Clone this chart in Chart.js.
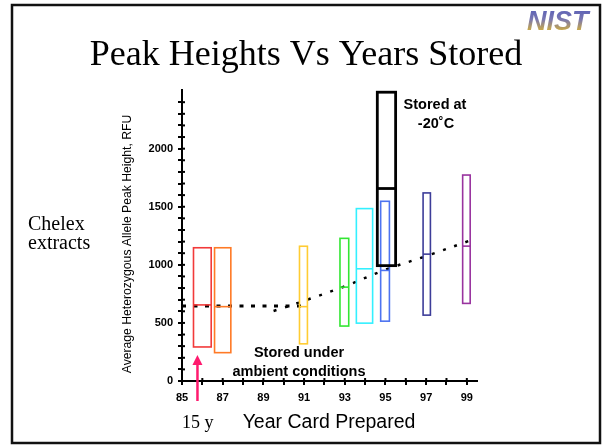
<!DOCTYPE html>
<html>
<head>
<meta charset="utf-8">
<script src="https://cdn.jsdelivr.net/npm/chart.js@4/dist/chart.umd.min.js"></script>
<style>
  html, body { margin: 0; padding: 0; background: #fff; }
  #wrap { width: 605px; height: 446px; position: relative; }
</style>
</head>
<body>
<div id="wrap"><canvas id="c" width="605" height="446"></canvas></div>
<script>
// Year the card was prepared (box centres)
const boxYears   = [86, 87, 90.97, 92.98, 93.97, 94.98, 95.05, 97.03, 98.98];
// Range of average heterozygous allele peak heights (RFU)
const boxLows    = [293, 244, 320, 473, 498, 515, 993, 567, 668];
const boxHighs   = [1147, 1147, 1160, 1228, 1484, 1547, 2486, 1619, 1773];
const boxMedians = [655, 640, 640, 808, 966, 952, 1657, 1092, 1161];

// Flat level for cards stored under ambient conditions
const ambientYears  = [85, 91.2];
const ambientLevel  = [645, 645];

// Trend of peak height with year prepared
const trendYears  = [89.5, 90.0, 91.0, 93.0, 95.0, 97.0, 99.25];
const trendValues = [603, 630, 690, 815, 958, 1075, 1215];

// Axis ticks: every year / every 100 RFU, labelled ones listed here
const xTickValues = [85, 86, 87, 88, 89, 90, 91, 92, 93, 94, 95, 96, 97, 98, 99];
const xTickLabels = [85, 87, 89, 91, 93, 95, 97, 99];
const yTickValues = [0, 100, 200, 300, 400, 500, 600, 700, 800, 900, 1000, 1100, 1200,
                     1300, 1400, 1500, 1600, 1700, 1800, 1900, 2000, 2100, 2200, 2300, 2400];
const yTickLabels = [0, 500, 1000, 1500, 2000];

// Box appearance: width (in years), colour, line width
const boxStyles = [
  { w: 0.87, color: '#f23a3a', lw: 1.6 },
  { w: 0.80, color: '#ff7a26', lw: 1.6 },
  { w: 0.39, color: '#ffcc33', lw: 1.6 },
  { w: 0.43, color: '#33e633', lw: 1.6 },
  { w: 0.80, color: '#33f0ff', lw: 1.6 },
  { w: 0.43, color: '#4d73f0', lw: 1.6 },
  { w: 0.90, color: '#000000', lw: 2.8 },
  { w: 0.36, color: '#3d3d99', lw: 1.6 },
  { w: 0.37, color: '#99339f', lw: 1.6 }
];

const SANS = '"Liberation Sans", Arial, sans-serif';
const SERIF = '"Liberation Serif", "Times New Roman", serif';

const boxPlugin = {
  id: 'boxes',
  afterDatasetsDraw(chart) {
    const { ctx, scales: { x, y } } = chart;
    ctx.save();
    boxYears.forEach((yr, i) => {
      const s = boxStyles[i];
      const l = x.getPixelForValue(yr - s.w / 2);
      const r = x.getPixelForValue(yr + s.w / 2);
      const t = y.getPixelForValue(boxHighs[i]);
      const b = y.getPixelForValue(boxLows[i]);
      const m = y.getPixelForValue(boxMedians[i]);
      ctx.strokeStyle = s.color;
      ctx.lineWidth = s.lw;
      ctx.strokeRect(l, t, r - l, b - t);
      ctx.beginPath();
      ctx.moveTo(l, m);
      ctx.lineTo(r, m);
      ctx.stroke();
    });
    ctx.restore();
  }
};

const decorPlugin = {
  id: 'decor',
  afterDraw(chart) {
    const { ctx, scales: { x, y } } = chart;
    ctx.save();

    // inner halves of the tick marks
    ctx.strokeStyle = '#000';
    ctx.lineWidth = 2;
    x.ticks.forEach(t => {
      const px = x.getPixelForValue(t.value);
      ctx.beginPath(); ctx.moveTo(px, y.bottom); ctx.lineTo(px, y.bottom - 3); ctx.stroke();
    });
    y.ticks.forEach(t => {
      const py = y.getPixelForValue(t.value);
      ctx.beginPath(); ctx.moveTo(x.left, py); ctx.lineTo(x.left + 3, py); ctx.stroke();
    });

    // slide frame
    ctx.lineWidth = 2.5;
    ctx.strokeStyle = '#111';
    ctx.strokeRect(12, 5, 588, 438);

    // title
    ctx.fillStyle = '#000';
    ctx.textAlign = 'center';
    ctx.textBaseline = 'alphabetic';
    ctx.font = '36px ' + SERIF;
    ctx.fillText('Peak Heights Vs Years Stored', 306, 65);

    // side note
    ctx.textAlign = 'left';
    ctx.font = '20px ' + SERIF;
    ctx.fillText('Chelex', 28, 230);
    ctx.fillText('extracts', 28, 249);

    // bottom captions
    ctx.font = '18px ' + SERIF;
    ctx.fillText('15 y', 182, 428);
    ctx.textAlign = 'center';
    ctx.font = '19.5px ' + SANS;
    ctx.fillText('Year Card Prepared', 329, 428);

    // y axis title
    ctx.save();
    ctx.translate(128, 244);
    ctx.rotate(-Math.PI / 2);
    ctx.textBaseline = 'middle';
    ctx.font = '12.2px ' + SANS;
    ctx.fillText('Average Heterozygous Allele Peak Height, RFU', 0, 0);
    ctx.restore();

    // annotations
    ctx.font = 'bold 14.5px ' + SANS;
    ctx.fillText('Stored at', 435, 109);
    ctx.fillText('-20\u02DAC', 436, 128);
    ctx.fillText('Stored under', 299, 357);
    ctx.fillText('ambient conditions', 299, 376);

    // pink arrow pointing at the oldest card
    const ax = x.getPixelForValue(85.76);
    const tipY = y.getPixelForValue(224);
    ctx.strokeStyle = '#ff1a6e';
    ctx.fillStyle = '#ff1a6e';
    ctx.lineWidth = 2.5;
    ctx.beginPath(); ctx.moveTo(ax, 401); ctx.lineTo(ax, tipY + 8); ctx.stroke();
    ctx.beginPath();
    ctx.moveTo(ax, tipY); ctx.lineTo(ax - 5, tipY + 10); ctx.lineTo(ax + 5, tipY + 10);
    ctx.closePath(); ctx.fill();

    // NIST logo
    const g = ctx.createLinearGradient(0, 9, 0, 30);
    g.addColorStop(0, '#5a5fb8');
    g.addColorStop(0.5, '#7a78b0');
    g.addColorStop(1, '#c8a848');
    ctx.fillStyle = g;
    ctx.textAlign = 'left';
    ctx.font = 'italic bold 27px ' + SANS;
    ctx.fillText('NIST', 527, 30);

    ctx.restore();
  }
};

new Chart(document.getElementById('c'), {
  type: 'line',
  data: {
    datasets: [
      {
        data: ambientYears.map((v, i) => ({ x: v, y: ambientLevel[i] })),
        borderColor: '#000',
        borderWidth: 3,
        borderDash: [4, 7.5],
        pointRadius: 0,
        fill: false
      },
      {
        data: trendYears.map((v, i) => ({ x: v, y: trendValues[i] })),
        borderColor: '#000',
        borderWidth: 2.5,
        borderDash: [3, 9],
        pointRadius: 0,
        tension: 0.35,
        fill: false
      }
    ]
  },
  options: {
    responsive: false,
    animation: false,
    events: [],
    layout: { padding: { left: 116, top: 90, right: 128, bottom: 0 } },
    plugins: { legend: { display: false }, tooltip: { enabled: false } },
    scales: {
      x: {
        type: 'linear',
        min: 85, max: 99.5,
        afterFit: s => { s.height = 65; },
        afterBuildTicks: s => { s.ticks = xTickValues.map(v => ({ value: v })); },
        ticks: {
          autoSkip: false,
          maxRotation: 0,
          padding: 6,
          color: '#000',
          font: { family: SANS, size: 11, weight: 'bold' },
          callback: v => xTickLabels.includes(v) ? String(v) : ''
        },
        grid: { drawOnChartArea: false, drawTicks: true, tickLength: 4, color: '#000', lineWidth: 2 },
        border: { color: '#000', width: 2 }
      },
      y: {
        min: 0, max: 2505,
        afterFit: s => { s.width = 66; },
        afterBuildTicks: s => { s.ticks = yTickValues.map(v => ({ value: v })); },
        ticks: {
          autoSkip: false,
          padding: 5,
          color: '#000',
          font: { family: SANS, size: 11, weight: 'bold' },
          callback: v => yTickLabels.includes(v) ? String(v) : ''
        },
        grid: { drawOnChartArea: false, drawTicks: true, tickLength: 4, color: '#000', lineWidth: 2 },
        border: { color: '#000', width: 2 }
      }
    }
  },
  plugins: [boxPlugin, decorPlugin]
});
</script>
</body>
</html>
